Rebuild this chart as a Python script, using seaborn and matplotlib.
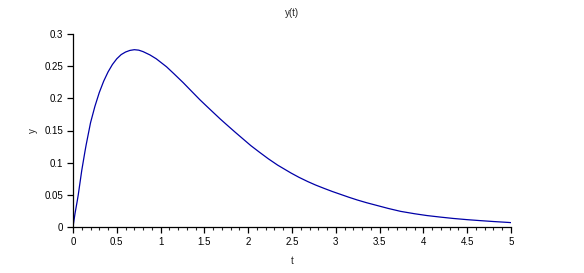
import matplotlib
matplotlib.use("Agg")
import matplotlib.pyplot as plt
from matplotlib.ticker import MultipleLocator
import seaborn as sns
import pandas as pd

t_values = [0, 0.023, 0.05, 0.06, 0.1, 0.136, 0.15, 0.2, 0.25, 0.3, 0.35, 0.4,
            0.45, 0.5, 0.55, 0.6, 0.65, 0.7, 0.75, 0.8, 0.878, 0.95, 1.068,
            1.15, 1.257, 1.35, 1.447, 1.52, 1.598, 1.68, 1.75, 1.85, 1.94,
            2.03, 2.128, 2.23, 2.336, 2.49, 2.58, 2.68, 2.77, 2.867, 2.96,
            3.057, 3.15, 3.245, 3.35, 3.45, 3.6, 3.74, 3.9, 4.04, 4.2, 4.34,
            4.5, 4.65, 4.8, 4.97, 5.0]
y_values = [0, 0.021, 0.0417, 0.05, 0.088, 0.117, 0.1276, 0.162, 0.1875, 0.209,
            0.2266, 0.241, 0.2526, 0.2615, 0.268, 0.272, 0.2745, 0.2756,
            0.2749, 0.2726, 0.2675, 0.2615, 0.249, 0.2385, 0.2245, 0.2115,
            0.198, 0.1885, 0.1785, 0.168, 0.1595, 0.1475, 0.137, 0.1265,
            0.1163, 0.106, 0.0962, 0.0838, 0.0772, 0.0706, 0.0652, 0.0600,
            0.0552, 0.0506, 0.0462, 0.0420, 0.0378, 0.0342, 0.0288, 0.0243,
            0.0206, 0.0178, 0.0153, 0.0133, 0.0114, 0.0099, 0.0085, 0.0071,
            0.0068]
x_ticks = [0, 0.5, 1, 1.5, 2, 2.5, 3, 3.5, 4, 4.5, 5]
x_tick_labels = ["0", "0.5", "1", "1.5", "2", "2.5", "3", "3.5", "4", "4.5", "5"]
y_ticks = [0, 0.05, 0.1, 0.15, 0.2, 0.25, 0.3]
y_tick_labels = ["0", "0.05", "0.1", "0.15", "0.2", "0.25", "0.3"]

sns.set_style("ticks")
plt.rcParams["font.family"] = ["Liberation Sans", "DejaVu Sans"]

df = pd.DataFrame({"t": t_values, "y": y_values})

fig = plt.figure(figsize=(5.84, 2.73), dpi=100)
ax = fig.add_axes([73 / 584, 1 - 227 / 273, (511 - 73) / 584, (227 - 34) / 273])

sns.lineplot(data=df, x="t", y="y", ax=ax, color="#0000a8", linewidth=0.9)

ax.set_xlim(0, 5)
ax.set_ylim(0, 0.3)
ax.set_xticks(x_ticks)
ax.set_xticklabels(x_tick_labels)
ax.set_yticks(y_ticks)
ax.set_yticklabels(y_tick_labels)
ax.xaxis.set_minor_locator(MultipleLocator(0.1))

for s in ["left", "bottom"]:
    ax.spines[s].set_linewidth(0.9)
    ax.spines[s].set_color("black")
sns.despine(ax=ax)

ax.tick_params(axis="both", which="major", length=4, width=0.9, labelsize=7, pad=3, colors="black")
ax.tick_params(axis="x", which="minor", length=2.5, width=0.8)

ax.set_xlabel("t", fontsize=7, labelpad=7)
ax.set_ylabel("y", fontsize=7, labelpad=5)
ax.set_title("y(t)", fontsize=7, pad=13)

fig.savefig("out.png", dpi=100)
